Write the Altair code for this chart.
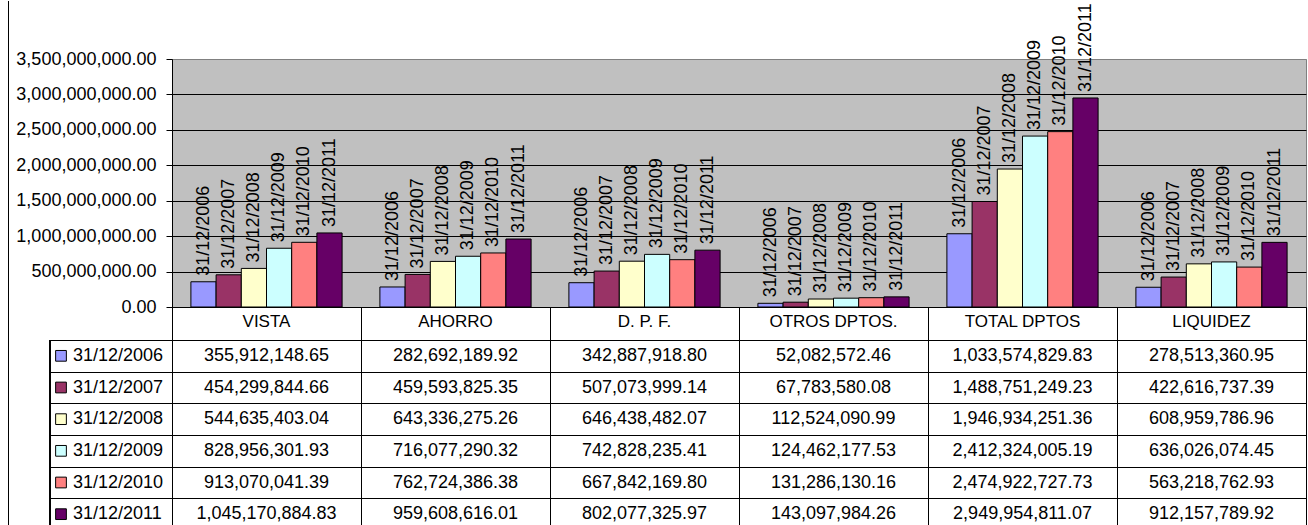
import altair as alt
import pandas as pd

categories = ["VISTA", "AHORRO", "D. P. F.", "OTROS DPTOS.", "TOTAL DPTOS", "LIQUIDEZ"]
series = ["31/12/2006", "31/12/2007", "31/12/2008", "31/12/2009", "31/12/2010", "31/12/2011"]
colors = ["#9999FF", "#993366", "#FFFFCC", "#CCFFFF", "#FF8080", "#660066"]

v2006 = [355912148.65, 282692189.92, 342887918.80, 52082572.46, 1033574829.83, 278513360.95]
v2007 = [454299844.66, 459593825.35, 507073999.14, 67783580.08, 1488751249.23, 422616737.39]
v2008 = [544635403.04, 643336275.26, 646438482.07, 112524090.99, 1946934251.36, 608959786.96]
v2009 = [828956301.93, 716077290.32, 742828235.41, 124462177.53, 2412324005.19, 636026074.45]
v2010 = [913070041.39, 762724386.38, 667842169.80, 131286130.16, 2474922727.73, 563218762.93]
v2011 = [1045170884.83, 959608616.01, 802077325.97, 143097984.26, 2949954811.07, 912157789.92]

y_ticks = [0, 500000000, 1000000000, 1500000000, 2000000000, 2500000000, 3000000000, 3500000000]

rows = []
for s, vals in zip(series, [v2006, v2007, v2008, v2009, v2010, v2011]):
    for c, v in zip(categories, vals):
        rows.append({"cat": c, "serie": s, "val": v})
df = pd.DataFrame(rows)
df_cat = pd.DataFrame({"cat": categories})
df_ser = pd.DataFrame({"serie": series})

FONT = "Liberation Sans"
W = 1134
H_TOP = 248
H_TAB = 185

color_enc = alt.Color("serie:N", scale=alt.Scale(domain=series, range=colors), legend=None)

x_top = alt.X("cat:N", sort=categories,
              scale=alt.Scale(paddingInner=0, paddingOuter=0),
              axis=alt.Axis(labels=False, ticks=False, title=None, domainColor="black"))
xoff = alt.XOffset("serie:N", sort=series, scale=alt.Scale(paddingInner=0, paddingOuter=0.75))
y_top = alt.Y("val:Q", scale=alt.Scale(domain=[0, 3500000000], nice=False, zero=True),
              axis=alt.Axis(values=y_ticks, tickCount=20, format=",.2f", title=None, grid=True,
                            gridColor=alt.condition("datum.value >= 3500000000",
                                                    alt.value("#808080"), alt.value("black")),
                            gridWidth=1, domainColor="black",
                            tickColor="black", tickSize=6, labelPadding=10, labelOverlap=False,
                            labelFont=FONT, labelFontSize=18, labelColor="black"))

base = alt.Chart(df)
bars = base.mark_bar(stroke="black", strokeWidth=1).encode(
    x=x_top, xOffset=xoff, y=y_top, color=color_enc)
labels = base.mark_text(angle=270, align="left", baseline="middle", dx=6,
                        font=FONT, fontSize=18, color="black").encode(
    x=x_top, xOffset=xoff, y="val:Q", text="serie:N")
frame_top = alt.Chart(df_cat).mark_rule(color="black", strokeWidth=1).encode(
    x=alt.value(-163.5), y=alt.value(-58), y2=alt.value(H_TOP))

top = alt.layer(bars, labels, frame_top).properties(
    width=W, height=H_TOP,
    view=alt.ViewBackground(fill="#C0C0C0", stroke="#808080"))

# table
x_tab = alt.X("cat:N", sort=categories,
              scale=alt.Scale(paddingInner=0, paddingOuter=0),
              axis=alt.Axis(orient="top", labels=False, title=None, tickSize=33,
                            tickColor="black", tickBand="extent", grid=True,
                            gridColor="black", domainColor="black"))
y_tab = alt.Y("serie:N", sort=series,
              scale=alt.Scale(range=[0, 190], paddingInner=0, paddingOuter=0),
              axis=alt.Axis(labels=False, title=None, tickSize=122, tickColor="black",
                            tickBand="extent", grid=True, gridColor="black",
                            domainColor="black"))

cells = alt.Chart(df).mark_text(font=FONT, fontSize=18, color="black").encode(
    x=x_tab, y=y_tab, text=alt.Text("val:Q", format=",.2f"))
header = alt.Chart(df_cat).mark_text(font=FONT, fontSize=17, color="black",
                                     baseline="alphabetic").encode(
    x=alt.X("cat:N", sort=categories), y=alt.value(-13), text="cat:N")
sq = alt.Chart(df_ser).mark_square(size=115, stroke="black", strokeWidth=1, opacity=1).encode(
    x=alt.value(-111), y=alt.Y("serie:N", sort=series), color=color_enc)
leg_txt = alt.Chart(df_ser).mark_text(font=FONT, fontSize=18, color="black",
                                      align="left", baseline="middle").encode(
    x=alt.value(-99), y=alt.Y("serie:N", sort=series), text="serie:N")
leg_line = alt.Chart(df_cat).mark_rule(color="black", strokeWidth=1).encode(
    x=alt.value(-122), y=alt.value(0), y2=alt.value(H_TAB))
frame_tab = alt.Chart(df_cat).mark_rule(color="black", strokeWidth=1).encode(
    x=alt.value(-163.5), y=alt.value(-34), y2=alt.value(H_TAB))

table = alt.layer(cells, header, sq, leg_txt, leg_line, frame_tab).properties(
    width=W, height=H_TAB)

chart = alt.vconcat(top, table, spacing=33, bounds="flush").resolve_scale(
    x="independent", y="independent"
).properties(
    padding={"left": 7, "top": 0, "right": 0, "bottom": 0}
).configure_view(
    stroke=None
).configure(
    font=FONT
)

chart.save("out.html", embed_options={"renderer": "svg", "actions": False})
